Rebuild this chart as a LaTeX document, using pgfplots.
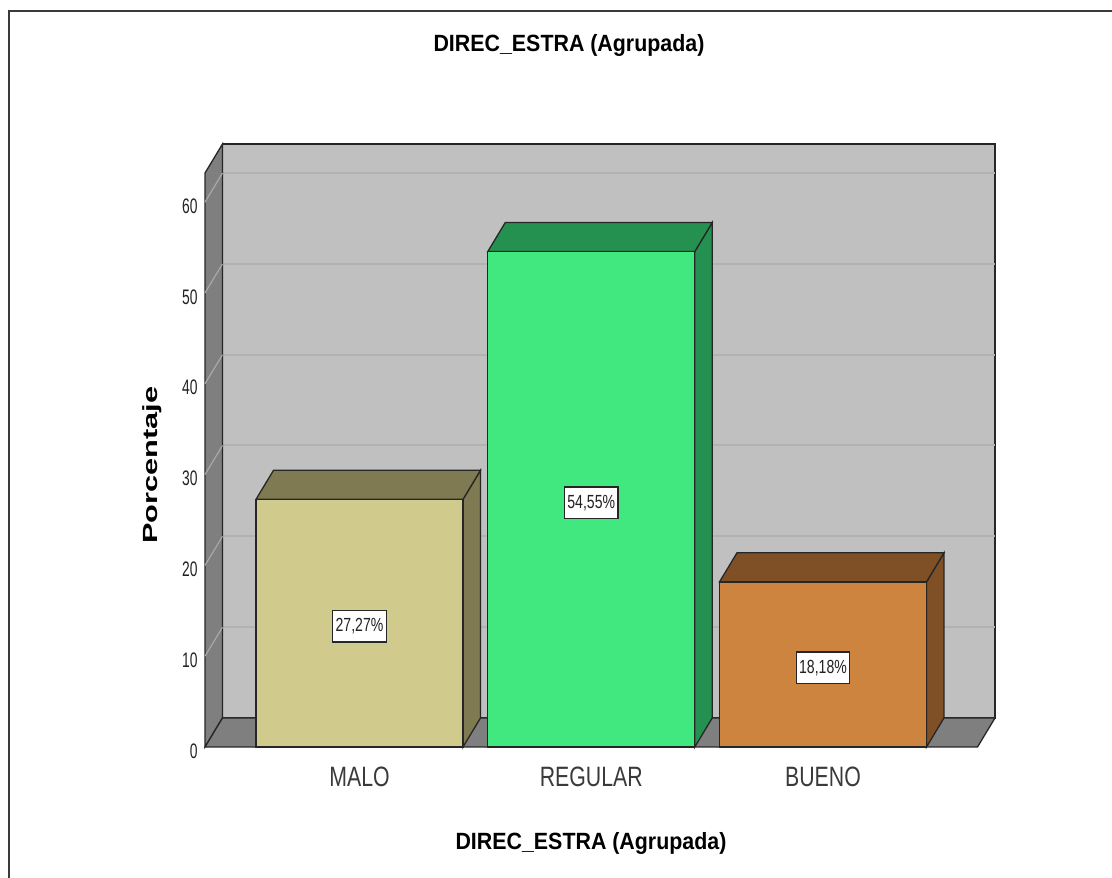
\documentclass[border=0pt]{standalone}
\usepackage{fontspec}
\setmainfont{Liberation Sans}
\newfontfamily\tickfont[FakeStretch=0.66]{Liberation Sans}
\newfontfamily\catfont[FakeStretch=0.76]{Liberation Sans}
\newfontfamily\lblfont[FakeStretch=0.74]{Liberation Sans}
\newfontfamily\titfont[FakeStretch=0.91]{Liberation Sans}
\newfontfamily\widefont[FakeStretch=1.5]{Liberation Sans}
\usepackage{pgfplots}
\pgfplotsset{compat=1.18}
\definecolor{wallback}{HTML}{C0C0C0}
\definecolor{wallside}{HTML}{7F7F7F}
\definecolor{gridc}{HTML}{B2B2B2}
\definecolor{diagc}{HTML}{A8A8A8}
\definecolor{edge}{HTML}{262626}
\definecolor{maloF}{HTML}{D0CA8D}
\definecolor{maloD}{HTML}{7F7A51}
\definecolor{regF}{HTML}{41E87F}
\definecolor{regD}{HTML}{259150}
\definecolor{buenoF}{HTML}{CD843F}
\definecolor{buenoD}{HTML}{7F5026}
\definecolor{txtgray}{HTML}{3A3A3A}
\definecolor{lbltxt}{HTML}{222222}
\begin{document}
\begin{tikzpicture}[x=1pt,y=1pt]
\useasboundingbox (0,0) rectangle (1112,878);
\draw[color=txtgray,line width=1.6pt] (9,0) -- (9,867) -- (1112,867);
\node[font={\titfont\bfseries\fontsize{23.5}{26}\selectfont},text=black] at (569,833) {DIREC\_ESTRA (Agrupada)};
\node[font={\titfont\bfseries\fontsize{23.5}{26}\selectfont},text=black] at (591,35) {DIREC\_ESTRA (Agrupada)};
\node[font={\widefont\bfseries\fontsize{20.5}{24}\selectfont},text=black,rotate=90] at (152,413) {Porcentaje};
\begin{axis}[
  at={(205pt,131pt)}, anchor=south west,
  scale only axis, width=790pt, height=603pt,
  xmin=-0.6667, xmax=2.7422, ymin=0, ymax=66.4,
  axis line style={draw=none},
  tick style={draw=none},
  xtick={0,1,2}, xticklabels={MALO,REGULAR,BUENO},
  ytick={0,10,20,30,40,50,60},
  clip=false,
  /pgf/number format/assume math mode=true,
  yticklabel style={font={\tickfont\fontsize{21}{21}\selectfont},text=lbltxt,xshift=-4pt,yshift=-4pt},
  xticklabel style={font={\catfont\fontsize{28}{28}\selectfont},text=txtgray,yshift=-16pt},
]
% back wall
\addplot[fill=wallback,draw=edge,line width=1.3pt] coordinates {(-0.5912,3.2) (2.7422,3.2) (2.7422,66.4) (-0.5912,66.4)} --cycle;
% gridlines on back wall
\addplot[gridc,line width=2pt] coordinates {(-0.5912,13.2) (2.7422,13.2)};
\addplot[gridc,line width=2pt] coordinates {(-0.5912,23.2) (2.7422,23.2)};
\addplot[gridc,line width=2pt] coordinates {(-0.5912,33.2) (2.7422,33.2)};
\addplot[gridc,line width=2pt] coordinates {(-0.5912,43.2) (2.7422,43.2)};
\addplot[gridc,line width=2pt] coordinates {(-0.5912,53.2) (2.7422,53.2)};
\addplot[gridc,line width=2pt] coordinates {(-0.5912,63.2) (2.7422,63.2)};
% side wall
\addplot[fill=wallside,draw=edge,line width=1.3pt] coordinates {(-0.6667,0) (-0.6667,63.2) (-0.5912,66.4) (-0.5912,3.2)} --cycle;
\addplot[diagc,line width=1.2pt] coordinates {(-0.6667,10) (-0.5912,13.2)};
\addplot[diagc,line width=1.2pt] coordinates {(-0.6667,20) (-0.5912,23.2)};
\addplot[diagc,line width=1.2pt] coordinates {(-0.6667,30) (-0.5912,33.2)};
\addplot[diagc,line width=1.2pt] coordinates {(-0.6667,40) (-0.5912,43.2)};
\addplot[diagc,line width=1.2pt] coordinates {(-0.6667,50) (-0.5912,53.2)};
\addplot[diagc,line width=1.2pt] coordinates {(-0.6667,60) (-0.5912,63.2)};
% floor
\addplot[fill=wallside,draw=edge,line width=1.3pt] coordinates {(-0.6667,0) (2.6667,0) (2.7422,3.2) (-0.5912,3.2)} --cycle;
% MALO
\addplot[fill=maloD,draw=edge,line width=1.3pt] coordinates {(0.4466,0) (0.4466,27.27) (0.5221,30.47) (0.5221,3.2)} --cycle;
\addplot[fill=maloD,draw=edge,line width=1.3pt] coordinates {(-0.4466,27.27) (0.4466,27.27) (0.5221,30.47) (-0.3711,30.47)} --cycle;
\addplot[fill=maloF,draw=edge,line width=1.3pt] coordinates {(-0.4466,0) (0.4466,0) (0.4466,27.27) (-0.4466,27.27)} --cycle;
% REGULAR
\addplot[fill=regD,draw=edge,line width=1.3pt] coordinates {(1.4466,0) (1.4466,54.55) (1.5221,57.75) (1.5221,3.2)} --cycle;
\addplot[fill=regD,draw=edge,line width=1.3pt] coordinates {(0.5534,54.55) (1.4466,54.55) (1.5221,57.75) (0.6289,57.75)} --cycle;
\addplot[fill=regF,draw=edge,line width=1.3pt] coordinates {(0.5534,0) (1.4466,0) (1.4466,54.55) (0.5534,54.55)} --cycle;
% BUENO
\addplot[fill=buenoD,draw=edge,line width=1.3pt] coordinates {(2.4466,0) (2.4466,18.18) (2.5221,21.38) (2.5221,3.2)} --cycle;
\addplot[fill=buenoD,draw=edge,line width=1.3pt] coordinates {(1.5534,18.18) (2.4466,18.18) (2.5221,21.38) (1.6289,21.38)} --cycle;
\addplot[fill=buenoF,draw=edge,line width=1.3pt] coordinates {(1.5534,0) (2.4466,0) (2.4466,18.18) (1.5534,18.18)} --cycle;
% value labels
\node[fill=white,draw=edge,line width=1.3pt,inner xsep=3pt,inner ysep=8pt,font={\lblfont\fontsize{19}{19}\selectfont},text=lbltxt] at (axis cs:0,13.3) {27,27\%};
\node[fill=white,draw=edge,line width=1.3pt,inner xsep=3pt,inner ysep=8pt,font={\lblfont\fontsize{19}{19}\selectfont},text=lbltxt] at (axis cs:1,26.9) {54,55\%};
\node[fill=white,draw=edge,line width=1.3pt,inner xsep=3pt,inner ysep=8pt,font={\lblfont\fontsize{19}{19}\selectfont},text=lbltxt] at (axis cs:2,8.7) {18,18\%};
\end{axis}
\end{tikzpicture}
\end{document}
